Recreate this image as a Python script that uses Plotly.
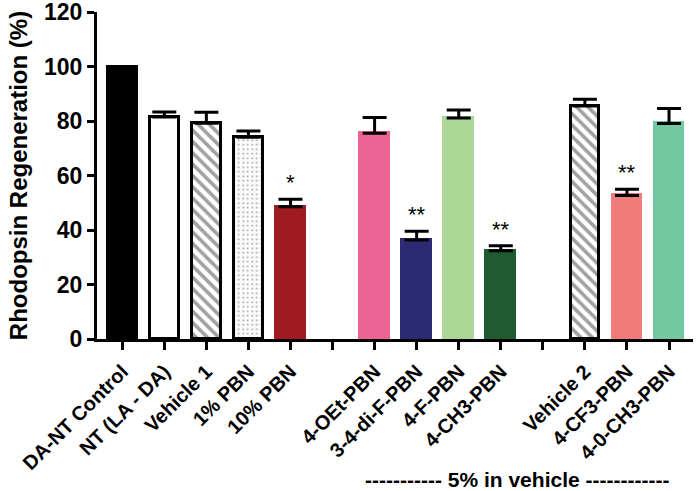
import plotly.graph_objects as go

labels = ["DA-NT Control", "NT (LA - DA)", "Vehicle 1", "1% PBN", "10% PBN", "",
          "4-OEt-PBN", "3-4-di-F-PBN", "4-F-PBN", "4-CH3-PBN", "",
          "Vehicle 2", "4-CF3-PBN", "4-0-CH3-PBN"]
values = [100, 81.5, 79.2, 74.0, 48.5, None,
          75.5, 36.3, 81.1, 32.4, None,
          85.5, 52.7, 79.1]
errors = [0, 1.8, 4.0, 2.3, 2.8, None,
          5.8, 3.2, 2.9, 1.8, None,
          2.5, 2.3, 5.5]
stars = ["", "", "", "", "*", "",
         "", "**", "", "**", "",
         "", "**", ""]
fills = ["black", "white", "white", "#fbfbfb", "#9e1b22", "white",
         "#ec6494", "#2b2a72", "#acd795", "#1f5b2f", "white",
         "white", "#f07b7b", "#72c8a0"]
patterns = ["", "", "\\", ".", "", "", "", "", "", "", "", "\\", "", ""]
outlined = [True, True, True, True, False, False,
            False, False, False, False, False,
            True, False, False]

xs = list(range(len(labels)))
line_cols = ["black" if o else f for o, f in zip(outlined, fills)]
fg = ["#808080" if p == "." else "black" for p in patterns]
sizes = [4.5 if p == "." else 8 for p in patterns]
solid = [0.14 if p == "." else 0.45 for p in patterns]

fig = go.Figure()
fig.add_trace(go.Bar(
    x=xs, y=values, width=0.68,
    marker=dict(color=fills,
                line=dict(color=line_cols, width=3),
                pattern=dict(shape=patterns, fgcolor=fg, bgcolor=fills,
                             size=sizes, solidity=solid, fillmode="overlay")),
    error_y=dict(type="data", symmetric=False, array=errors,
                 arrayminus=[0] * len(errors), color="black",
                 thickness=3, width=12),
    showlegend=False,
))

for x, v, e, s in zip(xs, values, errors, stars):
    if s:
        fig.add_annotation(x=x, y=v + e, text=s, showarrow=False,
                           yanchor="bottom", yshift=2,
                           font=dict(size=22, color="black",
                                     family="Liberation Sans, Arial"))

fig.add_annotation(xref="paper", yref="paper", x=0.705, y=-0.43,
                   text="----------- 5% in vehicle ------------",
                   showarrow=False, xanchor="center", yanchor="middle",
                   font=dict(size=21, color="black",
                             family="Liberation Sans, Arial", weight="bold"))

fig.update_layout(
    width=696, height=491,
    margin=dict(l=97, r=3, t=12, b=152),
    plot_bgcolor="white", paper_bgcolor="white",
    bargap=0,
    font=dict(family="Liberation Sans, Arial", color="black"),
    xaxis=dict(range=[-0.6, 13.57], tickmode="array", tickvals=xs,
               ticktext=labels, tickangle=-45, showgrid=False,
               showline=True, linecolor="black", linewidth=3,
               ticks="outside", ticklen=8, tickwidth=2.5, tickcolor="black",
               tickfont=dict(size=20, weight="bold"), zeroline=False,
               automargin=False, ticklabelstandoff=2),
    yaxis=dict(range=[0, 120], tickvals=[0, 20, 40, 60, 80, 100, 120],
               showgrid=False, showline=True, linecolor="black", linewidth=3,
               ticks="outside", ticklen=7, tickwidth=2.5, tickcolor="black",
               tickfont=dict(size=23, weight="bold"), zeroline=False,
               automargin=False, ticklabeloverflow="allow",
               title=dict(text="Rhodopsin Regeneration (%)",
                          font=dict(size=24, weight="bold"), standoff=10)),
)

# drop the default 8px page margin so the figure fills the window
fig.write_html("out.html", config={"displayModeBar": False},
               post_script="document.body.style.margin='0';")
